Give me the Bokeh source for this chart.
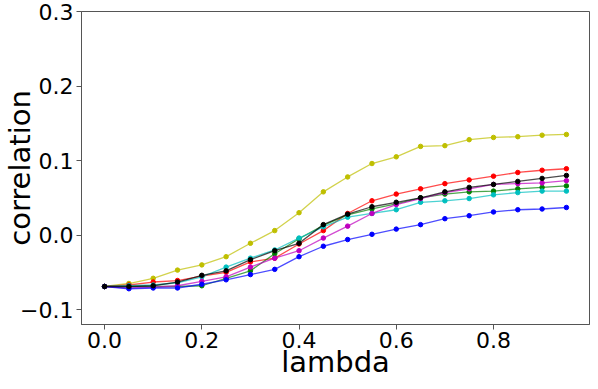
from bokeh.plotting import figure
from bokeh.models import FixedTicker, Range1d
from bokeh.embed import file_html
from bokeh.resources import INLINE

lam = [0.0, 0.05, 0.1, 0.15, 0.2, 0.25, 0.3, 0.35, 0.4, 0.45,
       0.5, 0.55, 0.6, 0.65, 0.7, 0.75, 0.8, 0.85, 0.9, 0.95]

yellow = [-0.069, -0.065, -0.058, -0.047, -0.040, -0.029, -0.011, 0.006, 0.030, 0.058,
          0.078, 0.096, 0.105, 0.119, 0.120, 0.128, 0.131, 0.132, 0.134, 0.135]
red = [-0.069, -0.067, -0.063, -0.061, -0.055, -0.050, -0.036, -0.031, -0.012, 0.006,
       0.029, 0.046, 0.055, 0.062, 0.069, 0.074, 0.079, 0.084, 0.087, 0.089]
green = [-0.069, -0.069, -0.069, -0.069, -0.068, -0.058, -0.048, -0.025, -0.005, 0.013,
         0.027, 0.035, 0.042, 0.050, 0.055, 0.058, 0.059, 0.062, 0.064, 0.066]
cyan = [-0.069, -0.068, -0.067, -0.064, -0.056, -0.043, -0.031, -0.020, -0.004, 0.011,
        0.024, 0.029, 0.034, 0.044, 0.046, 0.049, 0.054, 0.057, 0.059, 0.059]
magenta = [-0.069, -0.071, -0.070, -0.068, -0.062, -0.056, -0.043, -0.031, -0.021, -0.004,
           0.012, 0.029, 0.041, 0.049, 0.057, 0.062, 0.068, 0.069, 0.070, 0.073]
blue = [-0.069, -0.072, -0.071, -0.071, -0.066, -0.060, -0.053, -0.046, -0.029, -0.015,
        -0.006, 0.001, 0.008, 0.014, 0.022, 0.026, 0.031, 0.034, 0.035, 0.037]
black = [-0.069, -0.069, -0.068, -0.063, -0.054, -0.048, -0.033, -0.021, -0.011, 0.014,
         0.028, 0.038, 0.044, 0.050, 0.058, 0.064, 0.068, 0.072, 0.076, 0.080]

series = [
    (yellow, "#bfbf00"),
    (red, "#ff0000"),
    (green, "#008000"),
    (cyan, "#00bfbf"),
    (magenta, "#bf00bf"),
    (blue, "#0000ff"),
    (black, "#000000"),
]

x_ticks = [0.0, 0.2, 0.4, 0.6, 0.8]
y_ticks = [-0.1, 0.0, 0.1, 0.2, 0.3]
x_tick_labels = ["0.0", "0.2", "0.4", "0.6", "0.8"]
y_tick_labels = ["\u22120.1", "0.0", "0.1", "0.2", "0.3"]

p = figure(width=590, height=381, output_backend="svg", toolbar_location=None,
           x_range=Range1d(-0.0475, 0.9975), y_range=Range1d(-0.12, 0.3),
           min_border_left=71, min_border_right=1, min_border_top=11, min_border_bottom=43)

for vals, col in series:
    p.line(lam, vals, line_color=col, line_width=1.3, line_alpha=0.7)
    p.scatter(lam, vals, marker="circle", size=4.5, fill_color=col, line_color=col)

p.xgrid.visible = False
p.ygrid.visible = False
p.outline_line_color = "#555555"
p.outline_line_width = 1

for ax, ticks, labels in ((p.xaxis[0], x_ticks, x_tick_labels), (p.yaxis[0], y_ticks, y_tick_labels)):
    ax.ticker = FixedTicker(ticks=ticks)
    ax.major_label_overrides = {t: l for t, l in zip(ticks, labels)}
    ax.minor_tick_line_color = None
    ax.major_tick_out = 5
    ax.major_tick_in = 0
    ax.axis_line_color = "#555555"
    ax.major_tick_line_color = "#555555"
    ax.major_label_text_font = "DejaVu Sans"
    ax.major_label_text_font_size = "22px"
    ax.major_label_text_color = "black"
    ax.axis_label_text_font = "DejaVu Sans"
    ax.axis_label_text_font_size = "29px"
    ax.axis_label_text_font_style = "normal"
    ax.axis_label_text_color = "black"

p.xaxis.major_label_standoff = 2
p.yaxis.major_label_standoff = 3
p.xaxis.axis_label = "lambda"
p.xaxis.axis_label_standoff = -6
p.yaxis.axis_label = "correlation"
p.yaxis.axis_label_standoff = -20

open("out.html", "w").write(file_html(p, INLINE))
